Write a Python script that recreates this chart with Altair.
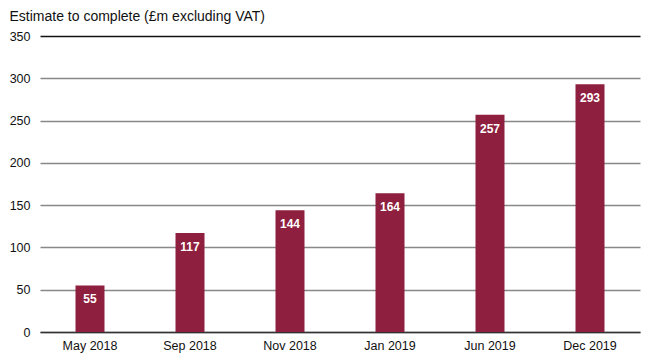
import altair as alt
import pandas as pd

categories = ["May 2018", "Sep 2018", "Nov 2018", "Jan 2019", "Jun 2019", "Dec 2019"]
values = [55, 117, 144, 164, 257, 293]

df = pd.DataFrame({"date": categories, "value": values})

FONT = "Liberation Sans"
BAR = "#8E1F3E"

base = alt.Chart(df).encode(
    x=alt.X("date:N", sort=categories, title=None,
            scale=alt.Scale(paddingInner=0.71, paddingOuter=0.355),
            axis=alt.Axis(labelAngle=0, ticks=False, domain=True, domainColor="#333",
                          domainWidth=1.5, labelFont=FONT, labelFontSize=12.5,
                          labelColor="#111", labelPadding=7, grid=False)),
    y=alt.Y("value:Q", title="Estimate to complete (£m excluding VAT)",
            scale=alt.Scale(domain=[0, 350], nice=False),
            axis=alt.Axis(values=[0, 50, 100, 150, 200, 250, 300, 350], ticks=False,
                          domain=False, labelFont=FONT, labelFontSize=12.5, labelColor="#111",
                          labelPadding=10, grid=True,
                          gridColor=alt.condition("datum.value == 350", alt.value("#111"), alt.value("#888")),
                          gridWidth=1.3,
                          titleAngle=0, titleAlign="left", titleBaseline="alphabetic",
                          titleX=-31, titleY=-16, titleFont=FONT, titleFontSize=14,
                          titleFontWeight="normal", titleColor="#111")),
)

bars = base.mark_bar(color=BAR)
labels = base.mark_text(color="white", baseline="middle", dy=14, font=FONT,
                        fontSize=12, fontWeight="bold").encode(text="value:Q")

chart = (bars + labels).properties(
    width=600, height=296,
    autosize=alt.AutoSizeParams(type="none"),
    padding={"left": 40, "top": 36, "right": 9, "bottom": 24},
).configure_view(stroke=None)

chart.save("out.html", embed_options={"renderer": "svg", "actions": False})
